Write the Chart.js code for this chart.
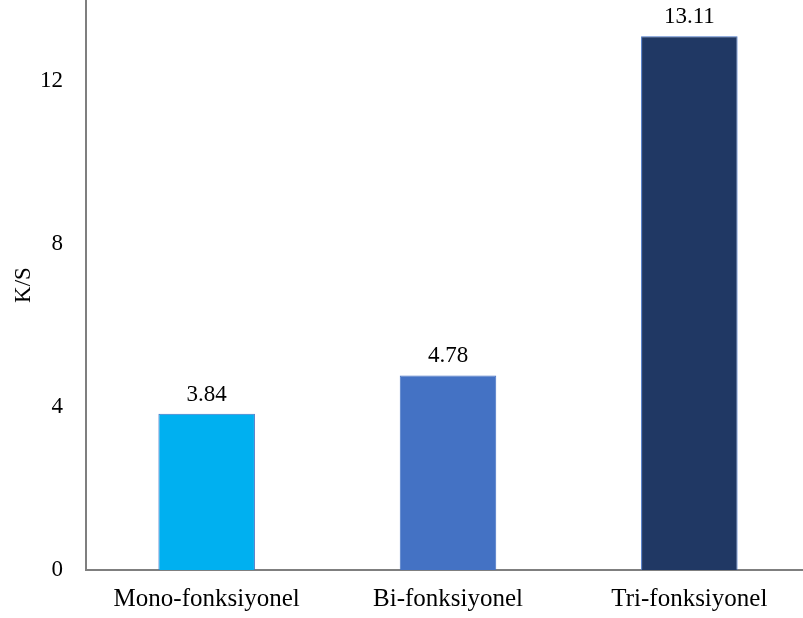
<!DOCTYPE html>
<html>
<head>
<meta charset="utf-8">
<script src="https://cdn.jsdelivr.net/npm/chart.js@4"></script>
<style>
  html, body { margin: 0; padding: 0; background: #fff; overflow: hidden; }
  #wrap { width: 810px; height: 618px; }
</style>
</head>
<body>
<div id="wrap"><canvas id="chart"></canvas></div>
<script>
const categories = ['Mono-fonksiyonel', 'Bi-fonksiyonel', 'Tri-fonksiyonel'];
const ksValues = [3.84, 4.78, 13.11];
const barColors = ['#00B0F0', '#4472C4', '#203864'];
const yTicks = [0, 4, 8, 12];

const serif = "'Liberation Serif', 'DejaVu Serif', serif";

// write the value above each bar
const valueLabels = {
  id: 'valueLabels',
  afterDatasetsDraw(chart) {
    const ctx = chart.ctx;
    const meta = chart.getDatasetMeta(0);
    ctx.save();
    ctx.font = '23px ' + serif;
    ctx.fillStyle = '#000';
    ctx.textAlign = 'center';
    ctx.textBaseline = 'alphabetic';
    meta.data.forEach((bar, i) => {
      ctx.fillText(ksValues[i].toFixed(2), bar.x, bar.y - 13);
    });
    ctx.restore();
  }
};

new Chart(document.getElementById('chart'), {
  type: 'bar',
  data: {
    labels: categories,
    datasets: [{
      data: ksValues,
      backgroundColor: barColors,
      borderColor: '#4472C4',
      borderWidth: 1,
      barPercentage: 0.4,
      categoryPercentage: 1.0
    }]
  },
  options: {
    responsive: true,
    maintainAspectRatio: false,
    animation: false,
    layout: { padding: 0 },
    plugins: {
      legend: { display: false },
      tooltip: { enabled: false }
    },
    scales: {
      x: {
        grid: { display: false, drawTicks: false },
        border: { display: true, color: '#7f7f7f', width: 2 },
        ticks: { color: '#000', font: { family: serif, size: 25 }, padding: 14, maxRotation: 0 },
        afterFit(scale) {
          scale.height = 48;
          scale.paddingLeft = 0;
          scale.paddingRight = 0;
        }
      },
      y: {
        min: 0,
        max: 14,
        grid: { display: false, drawTicks: false },
        border: { display: true, color: '#7f7f7f', width: 2 },
        ticks: { stepSize: 4, color: '#000', font: { family: serif, size: 23 }, padding: 23 },
        afterBuildTicks(scale) {
          scale.ticks = yTicks.map(v => ({ value: v }));
        },
        title: {
          display: true,
          text: 'K/S',
          color: '#000',
          font: { family: serif, size: 23 },
          padding: { top: 10, bottom: 0 }
        },
        afterFit(scale) {
          scale.width = 86;
          scale.paddingTop = 0;
          scale.paddingBottom = 0;
        }
      }
    }
  },
  plugins: [valueLabels]
});
</script>
</body>
</html>
